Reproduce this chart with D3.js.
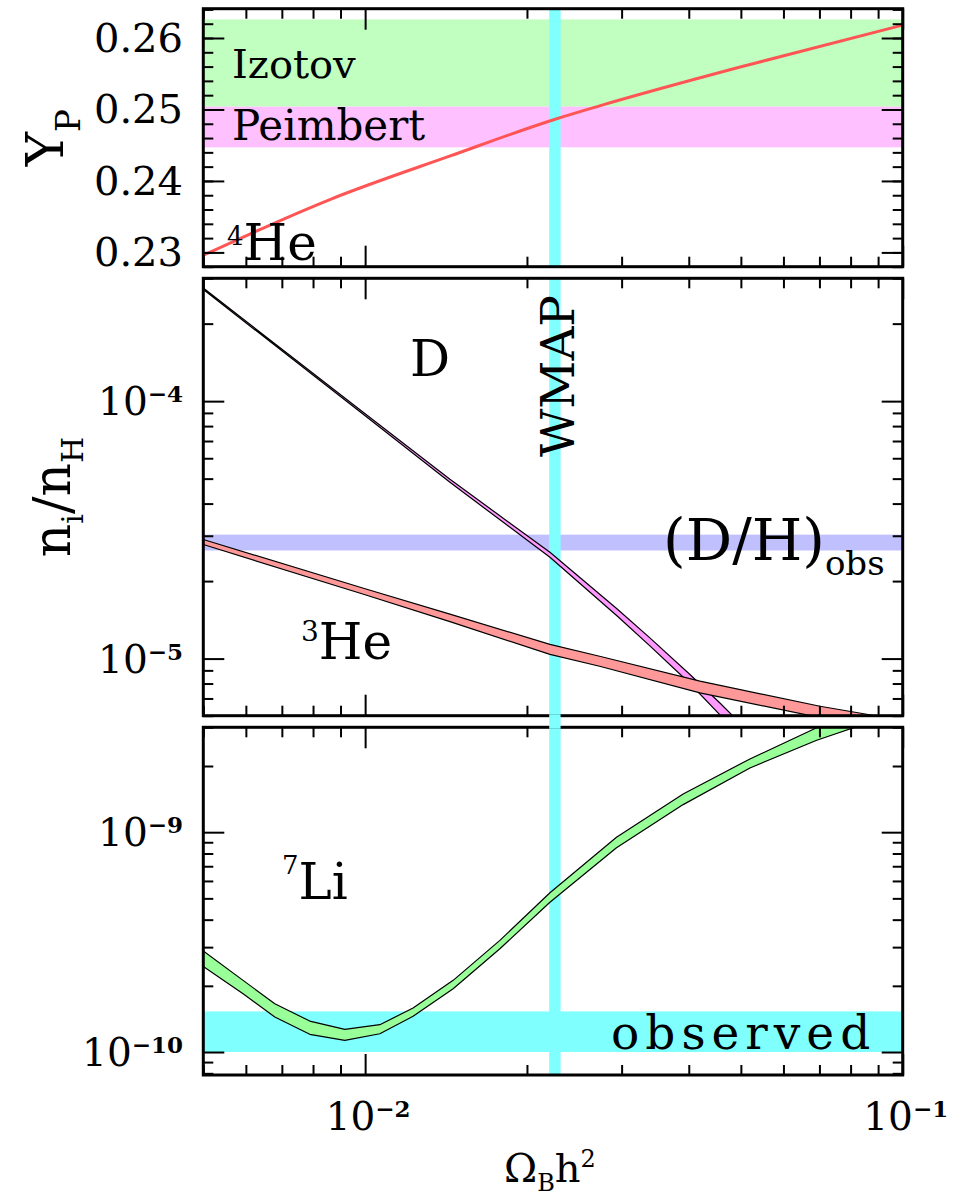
<!DOCTYPE html>
<html>
<head>
<meta charset="utf-8">
<script src="https://cdn.jsdelivr.net/npm/d3@7"></script>
<style>
  body { margin: 0; background: #fff; }
  text { font-family: "DejaVu Serif", serif; fill: #000; }
</style>
</head>
<body>
<svg id="chart" width="966" height="1199"></svg>
<script>
// axis ranges
const omegaDomain = [0.005, 0.1];
const ypDomain = [0.228, 0.2641];
const nDomain = [6e-6, 3e-4];
const liDomain = [7.86e-11, 3e-9];

// observational bands
const wmapBand = [0.0220, 0.0231];
const izotovBand = [0.2504, 0.2626];
const peimbertBand = [0.2447, 0.2504];
const dhObsBand = [2.63e-5, 3.03e-5];
const liObsBand = [1.0e-10, 1.53e-10];

// 4He mass fraction
const ypOmega = [0.005, 0.0086, 0.0144, 0.0225, 0.0273, 0.052, 0.1];
const ypValues = [0.2296, 0.2374, 0.2435, 0.2486, 0.2505, 0.2563, 0.2618];

// D/H band
const dOmega = [0.005, 0.01, 0.01438, 0.02207, 0.0294, 0.03386, 0.0402, 0.04571, 0.05104];
const dUpper = [2.749e-4, 0.893e-4, 4.97e-5, 2.587e-5, 1.561e-5, 1.203e-5, 8.67e-6, 6.72e-6, 5.34e-6];
const dLower = [2.713e-4, 0.877e-4, 4.84e-5, 2.474e-5, 1.466e-5, 1.120e-5, 8.00e-6, 6.04e-6, 4.75e-6];

// 3He/H band
const he3Omega = [0.005, 0.01, 0.01438, 0.02207, 0.0273, 0.04196, 0.07017, 0.0857, 0.1];
const he3Upper = [2.901e-5, 1.867e-5, 1.488e-5, 1.136e-5, 1.021e-5, 8.17e-6, 6.53e-6, 6.08e-6, 5.70e-6];
const he3Lower = [2.773e-5, 1.770e-5, 1.391e-5, 1.039e-5, 9.34e-6, 7.36e-6, 5.90e-6, 5.45e-6, 5.07e-6];

// 7Li/H band
const liOmega = [0.005, 0.005929, 0.006792, 0.007889, 0.009167, 0.01065, 0.01228, 0.01458, 0.01781,
  0.02207, 0.02935, 0.03905, 0.05198, 0.06918, 0.0867];
const liUpper = [2.878e-10, 2.118e-10, 1.658e-10, 1.383e-10, 1.268e-10, 1.331e-10, 1.585e-10, 2.118e-10,
  3.219e-10, 5.30e-10, 9.49e-10, 1.493e-9, 2.154e-9, 2.985e-9, 3.51e-9];
const liLower = [2.452e-10, 1.841e-10, 1.443e-10, 1.204e-10, 1.130e-10, 1.211e-10, 1.453e-10, 1.940e-10,
  2.948e-10, 4.80e-10, 8.49e-10, 1.335e-9, 1.960e-9, 2.619e-9, 3.16e-9];

// tick labels
const ypTicks = [0.23, 0.24, 0.25, 0.26];
const ypTickLabels = ['0.23', '0.24', '0.25', '0.26'];
const nTicks = [1e-5, 1e-4];
const nTickExps = ['\u22125', '\u22124'];
const liTicks = [1e-10, 1e-9];
const liTickExps = ['\u221210', '\u22129'];
const xTicks = [0.01, 0.1];
const xTickExps = ['\u22122', '\u22121'];

const X0 = 203.3;
const X1 = 902.7;
const panelTop = { y0: 8.7, y1: 266.7 };
const panelMid = { y0: 278.3, y1: 715.7 };
const panelBot = { y0: 727.3, y1: 1075 };

const colors = {
  izotov: '#c0ffc0',
  peimbert: '#ffc0ff',
  wmap: '#80ffff',
  dh: '#c0c0ff',
  yp: '#ff5555',
  d: '#ff99ff',
  he3: '#ff9999',
  li: '#99ff99',
};

const svg = d3.select('#chart');

const x = d3.scaleLog().domain(omegaDomain).range([X0, X1]);
const yTop = d3.scaleLinear().domain(ypDomain).range([panelTop.y1, panelTop.y0]);
const yMid = d3.scaleLog().domain(nDomain).range([panelMid.y1, panelMid.y0]);
const yBot = d3.scaleLog().domain(liDomain).range([panelBot.y1, panelBot.y0]);

const logMinor = domain => {
  const out = [];
  const e0 = Math.floor(Math.log10(domain[0]));
  const e1 = Math.ceil(Math.log10(domain[1]));
  for (let e = e0; e <= e1; e += 1) {
    for (let k = 2; k <= 9; k += 1) {
      const v = k * Math.pow(10, e);
      if (v >= domain[0] * 0.999 && v <= domain[1] * 1.001) out.push(v);
    }
  }
  return out;
};

const xMinor = logMinor(omegaDomain);
const ypMinor = d3.range(114, 133).map(k => k * 0.002).filter(v => v >= ypDomain[0] && v <= ypDomain[1]);

const defs = svg.append('defs');
[['clipTop', panelTop], ['clipMid', panelMid], ['clipBot', panelBot]].forEach(([id, p]) => {
  defs.append('clipPath').attr('id', id)
    .append('rect')
    .attr('x', X0).attr('y', p.y0)
    .attr('width', X1 - X0).attr('height', p.y1 - p.y0);
});

const hBand = (g, y, band, color) => g.append('rect')
  .attr('x', X0).attr('width', X1 - X0)
  .attr('y', y(band[1])).attr('height', y(band[0]) - y(band[1]))
  .attr('fill', color);

const wmapRect = (g, p) => g.append('rect')
  .attr('x', x(wmapBand[0])).attr('width', x(wmapBand[1]) - x(wmapBand[0]))
  .attr('y', p.y0).attr('height', p.y1 - p.y0)
  .attr('fill', colors.wmap);

const bandPath = (g, y, xs, lo, hi, color) => {
  const pts = xs.map((v, i) => ({ x: v, lo: lo[i], hi: hi[i] }));
  const area = d3.area()
    .x(d => x(d.x))
    .y0(d => y(d.lo))
    .y1(d => y(d.hi));
  g.append('path')
    .datum(pts)
    .attr('d', area)
    .attr('fill', color)
    .attr('stroke', '#000')
    .attr('stroke-width', 1.2)
    .attr('stroke-linejoin', 'round');
};

const drawFrame = (g, y, p, yMajor, yMinor) => {
  const add = (axis, tx, ty) => g.append('g')
    .attr('transform', `translate(${tx},${ty})`)
    .call(axis.tickFormat(''))
    .call(s => s.select('.domain').remove())
    .selectAll('line')
    .attr('stroke-width', 2);

  [[xTicks, 21], [xMinor, 10]].forEach(([vals, len]) => {
    add(d3.axisBottom(x).tickValues(vals).tickSize(-len), 0, p.y1);
    add(d3.axisTop(x).tickValues(vals).tickSize(-len), 0, p.y0);
  });
  [[yMajor, 21], [yMinor, 10]].forEach(([vals, len]) => {
    add(d3.axisLeft(y).tickValues(vals).tickSize(-len), X0, 0);
    add(d3.axisRight(y).tickValues(vals).tickSize(-len), X1, 0);
  });

  g.append('rect')
    .attr('x', X0).attr('y', p.y0)
    .attr('width', X1 - X0).attr('height', p.y1 - p.y0)
    .attr('fill', 'none')
    .attr('stroke', '#000')
    .attr('stroke-width', 3);
};

const powLabel = (g, tx, ty, exp, anchor) => {
  const t = g.append('text')
    .attr('x', tx).attr('y', ty)
    .attr('text-anchor', anchor)
    .attr('font-size', 39);
  t.append('tspan').text('10');
  t.append('tspan')
    .attr('font-size', 23)
    .attr('font-weight', 'bold')
    .attr('dy', -13)
    .text(exp);
};

// ---------- top panel: Y_P ----------
const gTop = svg.append('g');
hBand(gTop, yTop, izotovBand, colors.izotov);
hBand(gTop, yTop, peimbertBand, colors.peimbert);
wmapRect(gTop, panelTop);

gTop.append('path')
  .datum(ypOmega.map((v, i) => [v, ypValues[i]]))
  .attr('clip-path', 'url(#clipTop)')
  .attr('d', d3.line().x(d => x(d[0])).y(d => yTop(d[1])).curve(d3.curveMonotoneX))
  .attr('fill', 'none')
  .attr('stroke', colors.yp)
  .attr('stroke-width', 3);

drawFrame(gTop, yTop, panelTop, ypTicks, ypMinor);

ypTicks.forEach((v, i) => {
  gTop.append('text')
    .attr('x', 183).attr('y', yTop(v) + 14)
    .attr('text-anchor', 'end')
    .attr('font-size', 40)
    .text(ypTickLabels[i]);
});

gTop.append('text').attr('x', 232).attr('y', 78).attr('font-size', 40).text('Izotov');
gTop.append('text').attr('x', 232).attr('y', 140).attr('font-size', 42).text('Peimbert');
const he4 = gTop.append('text').attr('x', 227).attr('y', 260);
he4.append('tspan').attr('font-size', 26).attr('dy', -15).text('4');
he4.append('tspan').attr('font-size', 50).attr('dy', 15).text('He');

const ypTitle = gTop.append('text')
  .attr('transform', `translate(63,${(panelTop.y0 + panelTop.y1) / 2}) rotate(-90)`)
  .attr('text-anchor', 'middle');
ypTitle.append('tspan').attr('font-size', 52).text('Y');
ypTitle.append('tspan').attr('font-size', 34).attr('dy', 17).text('P');

// ---------- middle panel: D and 3He ----------
const gMid = svg.append('g');
hBand(gMid, yMid, dhObsBand, colors.dh);
wmapRect(gMid, panelMid);

const gMidCurves = gMid.append('g').attr('clip-path', 'url(#clipMid)');
bandPath(gMidCurves, yMid, dOmega, dLower, dUpper, colors.d);
bandPath(gMidCurves, yMid, he3Omega, he3Lower, he3Upper, colors.he3);

drawFrame(gMid, yMid, panelMid, nTicks, logMinor(nDomain));

nTicks.forEach((v, i) => powLabel(gMid, 183, yMid(v) + 14, nTickExps[i], 'end'));

gMid.append('text').attr('x', 410).attr('y', 376).attr('font-size', 50).text('D');
const he3 = gMid.append('text').attr('x', 301).attr('y', 659);
he3.append('tspan').attr('font-size', 28).attr('dy', -18).text('3');
he3.append('tspan').attr('font-size', 50).attr('dy', 18).text('He');

gMid.append('text')
  .attr('transform', 'translate(574,376) rotate(-90)')
  .attr('text-anchor', 'middle')
  .attr('font-size', 47)
  .text('WMAP');

const dhLabel = gMid.append('text').attr('x', 663).attr('y', 560);
dhLabel.append('tspan').attr('font-size', 58).text('(D/H)');
dhLabel.append('tspan').attr('font-size', 34).attr('dy', 15).text('obs');

const nTitle = gMid.append('text')
  .attr('transform', `translate(70,${(panelMid.y0 + panelMid.y1) / 2}) rotate(-90)`)
  .attr('text-anchor', 'middle');
nTitle.append('tspan').attr('font-size', 52).text('n');
nTitle.append('tspan').attr('font-size', 30).attr('dy', 13).text('i');
nTitle.append('tspan').attr('font-size', 52).attr('dy', -13).text('/n');
nTitle.append('tspan').attr('font-size', 30).attr('dy', 13).text('H');

// ---------- bottom panel: 7Li ----------
const gBot = svg.append('g');
hBand(gBot, yBot, liObsBand, colors.wmap);
wmapRect(gBot, panelBot);

const gBotCurves = gBot.append('g').attr('clip-path', 'url(#clipBot)');
bandPath(gBotCurves, yBot, liOmega, liLower, liUpper, colors.li);

drawFrame(gBot, yBot, panelBot, liTicks, logMinor(liDomain));

// WMAP strip runs through the gap between the lower two frames
svg.append('rect')
  .attr('x', x(wmapBand[0])).attr('width', x(wmapBand[1]) - x(wmapBand[0]))
  .attr('y', panelMid.y1 - 1.5).attr('height', panelBot.y0 - panelMid.y1 + 3)
  .attr('fill', colors.wmap);

liTicks.forEach((v, i) => powLabel(gBot, 183, yBot(v) + 14, liTickExps[i], 'end'));
xTicks.forEach((v, i) => powLabel(gBot, x(v) + 3, 1130, xTickExps[i], 'middle'));

const li7 = gBot.append('text').attr('x', 282).attr('y', 899);
li7.append('tspan').attr('font-size', 26).attr('dy', -25).text('7');
li7.append('tspan').attr('font-size', 50).attr('dy', 25).text('Li');

gBot.append('text')
  .attr('x', 611).attr('y', 1049)
  .attr('font-size', 47)
  .attr('letter-spacing', 6)
  .text('observed');

const xTitle = svg.append('text').attr('x', 504).attr('y', 1182);
xTitle.append('tspan').attr('font-size', 40).text('\u03a9');
xTitle.append('tspan').attr('font-size', 24).attr('dy', 9).text('B');
xTitle.append('tspan').attr('font-size', 40).attr('dy', -9).text('h');
xTitle.append('tspan').attr('font-size', 24).attr('dy', -15).text('2');
</script>
</body>
</html>
